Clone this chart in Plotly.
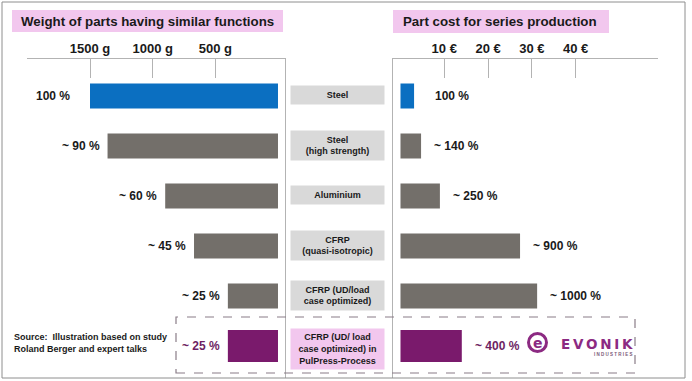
import plotly.graph_objects as go

# ---------------- data ----------------
materials = [
    "Steel",
    "Steel<br>(high strength)",
    "Aluminium",
    "CFRP<br>(quasi-isotropic)",
    "CFRP (UD/load<br>case optimized)",
    "CFRP (UD/ load<br>case optimized) in<br>PulPress-Process",
]
weight_g = [1500, 1360, 900, 670, 400, 400]
weight_labels = ["100 %", "~ 90 %", "~ 60 %", "~ 45 %", "~ 25 %", "~ 25 %"]
cost_eur = [3.1, 4.7, 9.0, 27.3, 31.2, 14.0]
cost_labels = ["100 %", "~ 140 %", "~ 250 %", "~ 900 %", "~ 1000 %", "~ 400 %"]
weight_ticks = [1500, 1000, 500]
weight_ticktext = ["1500 g", "1000 g", "500 g"]
cost_ticks = [10, 20, 30, 40]
cost_ticktext = ["10 €", "20 €", "30 €", "40 €"]
title_left = "Weight of parts having similar functions"
title_right = "Part cost for series production"
source_text = "Source:  Illustration based on study<br>Roland Berger and expert talks"

# ---------------- style ----------------
W, H = 692, 381
def px(x):
    return x / W
def py(y):
    return 1 - y / H

FONT = "Liberation Sans, Arial, sans-serif"
BLUE = "#0b6fc1"
GRAY = "#736f6a"
PURPLE = "#7a1a6c"
PURPLE_TXT = "#6e1f63"
PINK = "#f2c7ee"
BOXGRAY = "#d9d9d9"
AX = "#b3b3b3"
TXT = "#1a1a1a"

n = len(materials)
bar_colors = [BLUE] + [GRAY] * (n - 2) + [PURPLE]
bar_widths = [0.5] * (n - 1) + [0.64]

fig = go.Figure()
fig.add_trace(go.Bar(y=materials, x=weight_g, orientation="h", xaxis="x", yaxis="y",
                     marker=dict(color=bar_colors, line=dict(width=0)), width=bar_widths,
                     hoverinfo="skip"))
fig.add_trace(go.Bar(y=materials, x=cost_eur, orientation="h", xaxis="x2", yaxis="y2",
                     marker=dict(color=bar_colors, line=dict(width=0)), width=bar_widths,
                     hoverinfo="skip"))

yax = dict(domain=[py(378), py(59)], type="category", categoryorder="array",
           categoryarray=materials, range=[5.64, -0.74], showline=True, linecolor=AX,
           linewidth=1, showticklabels=False, ticks="", showgrid=False, zeroline=False,
           fixedrange=True)
tickfont = dict(size=13, family=FONT, color=TXT, weight="bold")
xax_common = dict(side="top", showline=True, linecolor=AX, linewidth=1, ticks="inside",
                  ticklen=19, tickcolor=AX, tickwidth=1, showgrid=False, zeroline=False,
                  tickfont=tickfont, fixedrange=True)

fig.update_layout(
    width=W, height=H, margin=dict(l=0, r=0, t=0, b=0),
    paper_bgcolor="white", plot_bgcolor="white", showlegend=False,
    xaxis=dict(domain=[px(27), px(285)], range=[2002.7, -55.9], anchor="y",
               tickvals=weight_ticks, ticktext=weight_ticktext, **xax_common),
    xaxis2=dict(domain=[px(393), px(658)], range=[-1.71, 58.8], anchor="y2",
                tickvals=cost_ticks, ticktext=cost_ticktext, **xax_common),
    yaxis=dict(anchor="x", side="right", **yax),
    yaxis2=dict(anchor="x2", side="left", **yax),
)

shapes = []
ann = []

# outer frame
shapes.append(dict(type="rect", xref="paper", yref="paper", x0=px(2), x1=px(685),
                   y0=py(378), y1=py(2), line=dict(color="#8e8e8e", width=1)))
# title boxes
for (x0, x1, y0, y1, tx, text) in [(12, 283, 10, 32, 19, title_left),
                                    (393, 609, 10, 33, 401, title_right)]:
    shapes.append(dict(type="rect", xref="paper", yref="paper", x0=px(x0), x1=px(x1),
                       y0=py(y1), y1=py(y0), fillcolor=PINK, line=dict(width=0), layer="below"))
    ann.append(dict(text=text, xref="paper", yref="paper", x=px(tx), y=py((y0 + y1) / 2),
                    xanchor="left", yanchor="middle", showarrow=False,
                    font=dict(size=13.3, family=FONT, color=TXT, weight="bold")))

# dashed highlight box
shapes.append(dict(type="rect", xref="paper", yref="paper", x0=px(176), x1=px(635),
                   y0=py(373), y1=py(317), line=dict(color="#8a7d88", width=1.2, dash="dash")))

# bar value labels
for i in range(n):
    col = PURPLE_TXT if i == n - 1 else TXT
    ann.append(dict(text=weight_labels[i], x=weight_g[i], y=materials[i], xref="x", yref="y",
                    xanchor="right", yanchor="middle", xshift=-18 if i == 0 else -6,
                    showarrow=False, font=dict(size=12, family=FONT, color=col, weight="bold")))
    ann.append(dict(text=cost_labels[i], x=cost_eur[i], y=materials[i], xref="x2", yref="y2",
                    xanchor="left", yanchor="middle", xshift=19 if i == 0 else 11,
                    showarrow=False, font=dict(size=12, family=FONT, color=col, weight="bold")))

# middle material boxes
for i, m in enumerate(materials):
    lines = m.count("<br>") + 1
    h = {1: 18, 2: 29, 3: 40}[lines]
    ann.append(dict(text=m, x=px(337.5), xref="paper", y=m, yref="y", xanchor="center",
                    yanchor="middle", width=93, height=h, borderpad=0,
                    bgcolor=PINK if i == n - 1 else BOXGRAY, showarrow=False,
                    yshift=-3 if i == n - 1 else 1,
                    font=dict(size=9, family=FONT, color=TXT, weight="bold")))

# source note
ann.append(dict(text=source_text, xref="paper", yref="paper", x=px(12), y=py(343),
                xanchor="left", yanchor="middle", align="left", showarrow=False,
                font=dict(size=9, family=FONT, color=TXT, weight="bold")))

# Evonik logo
LOGO = "#8c2a82"
shapes.append(dict(type="circle", xref="paper", yref="paper", x0=px(528.5), x1=px(546.5),
                   y0=py(351.5), y1=py(333.5), line=dict(color=LOGO, width=3), fillcolor="white"))
ann.append(dict(text="e", xref="paper", yref="paper", x=px(537.5), y=py(342.5),
                xanchor="center", yanchor="middle", showarrow=False,
                font=dict(size=14, family="DejaVu Sans, sans-serif", color=LOGO, weight="bold")))
ann.append(dict(text="E\u2009V\u2009O\u2009N\u2009I\u2009K", xref="paper", yref="paper",
                x=px(635), y=py(344), xanchor="right", yanchor="middle", showarrow=False,
                font=dict(size=13.5, family="DejaVu Sans, sans-serif", color=LOGO, weight="bold")))
ann.append(dict(text="I N D U S T R I E S", xref="paper", yref="paper", x=px(635), y=py(354),
                xanchor="right", yanchor="middle", showarrow=False,
                font=dict(size=4.5, family=FONT, color="#7a5a78", weight="bold")))

fig.update_layout(shapes=shapes, annotations=ann)
fig.write_html("out.html", config={"displayModeBar": False},
               post_script="document.body.style.margin='0px';document.body.style.overflow='hidden';")
